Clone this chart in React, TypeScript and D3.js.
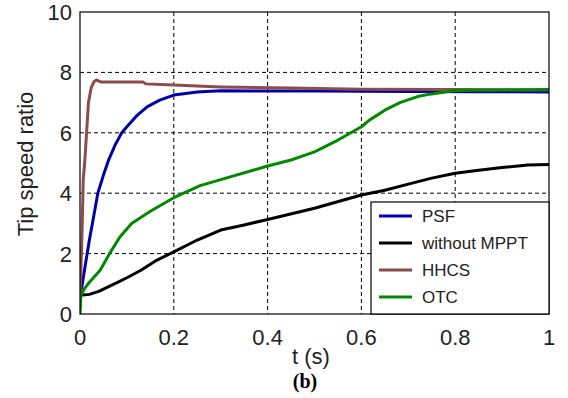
import React from "react";
import * as d3 from "d3";

const psfT = [0, 0.005, 0.01, 0.02, 0.03, 0.038, 0.05, 0.061, 0.075, 0.089, 0.1, 0.12, 0.143, 0.17, 0.2, 0.25, 0.3, 0.5, 0.7, 0.85, 1.0];
const psfV = [0.55, 1.0, 1.5, 2.45, 3.3, 4.0, 4.6, 5.1, 5.6, 6.0, 6.2, 6.55, 6.86, 7.08, 7.25, 7.35, 7.39, 7.38, 7.37, 7.36, 7.35];

const noMpptT = [0, 0.02, 0.04, 0.06, 0.08, 0.1, 0.13, 0.16, 0.2, 0.25, 0.3, 0.35, 0.4, 0.5, 0.6, 0.65, 0.7, 0.75, 0.8, 0.85, 0.9, 0.955, 1.0];
const noMpptV = [0.62, 0.65, 0.75, 0.9, 1.05, 1.2, 1.45, 1.75, 2.06, 2.45, 2.78, 2.95, 3.13, 3.5, 3.94, 4.1, 4.3, 4.5, 4.66, 4.76, 4.85, 4.93, 4.95];

const hhcsT = [0, 0.004, 0.007, 0.01, 0.014, 0.018, 0.024, 0.03, 0.035, 0.045, 0.135, 0.14, 0.2, 0.3, 0.45, 0.6, 0.8, 1.0];
const hhcsV = [0.5, 2.5, 4.5, 5.0, 6.0, 7.0, 7.5, 7.7, 7.75, 7.68, 7.68, 7.62, 7.58, 7.52, 7.48, 7.44, 7.43, 7.42];

const otcT = [0, 0.002, 0.01, 0.02, 0.043, 0.063, 0.085, 0.11, 0.15, 0.2, 0.256, 0.3, 0.4, 0.45, 0.5, 0.55, 0.6, 0.617, 0.65, 0.682, 0.72, 0.746, 0.8, 0.9, 1.0];
const otcV = [0, 0.62, 0.85, 1.05, 1.45, 2.0, 2.55, 3.0, 3.4, 3.85, 4.25, 4.45, 4.9, 5.1, 5.37, 5.76, 6.2, 6.42, 6.75, 7.0, 7.2, 7.28, 7.4, 7.42, 7.43];

const seriesNames = ["PSF", "without MPPT", "HHCS", "OTC"];
const seriesColors = ["#0000a8", "#000000", "#8e4b4b", "#008a00"];

const xTicks = [0, 0.2, 0.4, 0.6, 0.8, 1];
const xTickLabels = ["0", "0.2", "0.4", "0.6", "0.8", "1"];
const yTicks = [0, 2, 4, 6, 8, 10];
const yTickLabels = ["0", "2", "4", "6", "8", "10"];

export default function App() {
  const W = 568, H = 398;
  const left = 80, right = 549, top = 12, bottom = 314;
  const x = d3.scaleLinear().domain([0, 1]).range([left, right]);
  const y = d3.scaleLinear().domain([0, 10]).range([bottom, top]);
  const line = d3.line<[number, number]>().x(d => x(d[0])).y(d => y(d[1]));
  const data: [number, number][][] = [
    psfT.map((t, i) => [t, psfV[i]]),
    noMpptT.map((t, i) => [t, noMpptV[i]]),
    hhcsT.map((t, i) => [t, hhcsV[i]]),
    otcT.map((t, i) => [t, otcV[i]]),
  ];
  const font = "'Liberation Sans', Arial, sans-serif";
  const legX = 371, legY = 202;
  return (
    <svg width={W} height={H} style={{ position: "absolute", left: 0, top: 0 }}>
      <rect x={0} y={0} width={W} height={H} fill="#fff" />
      <defs>
        <clipPath id="plotclip">
          <rect x={left} y={top} width={right - left} height={bottom - top} />
        </clipPath>
      </defs>
      {xTicks.slice(1, -1).map(t => (
        <line key={"gx" + t} x1={x(t)} x2={x(t)} y1={top} y2={bottom} stroke="#000" strokeWidth={1} strokeDasharray="4 3" />
      ))}
      {yTicks.slice(1, -1).map(t => (
        <line key={"gy" + t} x1={left} x2={right} y1={y(t)} y2={y(t)} stroke="#000" strokeWidth={1} strokeDasharray="4 3" />
      ))}
      <g clipPath="url(#plotclip)">
        {data.map((d, i) => (
          <path key={i} d={line(d) || ""} fill="none" stroke={seriesColors[i]} strokeWidth={3} strokeLinejoin="round" />
        ))}
      </g>
      <rect x={left} y={top} width={right - left} height={bottom - top} fill="none" stroke="#000" strokeWidth={1.2} />
      {xTicks.map((t, i) => (
        <text key={"xl" + t} x={x(t)} y={345} fontFamily={font} fontSize={22} textAnchor="middle" fill="#222">{xTickLabels[i]}</text>
      ))}
      {yTicks.map((t, i) => (
        <text key={"yl" + t} x={72} y={y(t) + 8} fontFamily={font} fontSize={22} textAnchor="end" fill="#222">{yTickLabels[i]}</text>
      ))}
      <text x={311} y={364} fontFamily={font} fontSize={22} textAnchor="middle" fill="#222">t (s)</text>
      <text transform="translate(33,164) rotate(-90)" fontFamily={font} fontSize={22} textAnchor="middle" fill="#222">Tip speed ratio</text>
      <text x={305} y={388} fontFamily="'Liberation Serif', 'Times New Roman', serif" fontWeight="bold" fontSize={20} textAnchor="middle" fill="#000">(b)</text>
      <rect x={legX} y={legY} width={right - legX} height={bottom - legY} fill="#fff" stroke="#000" strokeWidth={1.2} />
      {seriesNames.map((n, i) => (
        <g key={n}>
          <line x1={379} x2={412} y1={216 + i * 27} y2={216 + i * 27} stroke={seriesColors[i]} strokeWidth={3} />
          <text x={422} y={216 + i * 27 + 6} fontFamily={font} fontSize={17} fill="#222">{n}</text>
        </g>
      ))}
    </svg>
  );
}
